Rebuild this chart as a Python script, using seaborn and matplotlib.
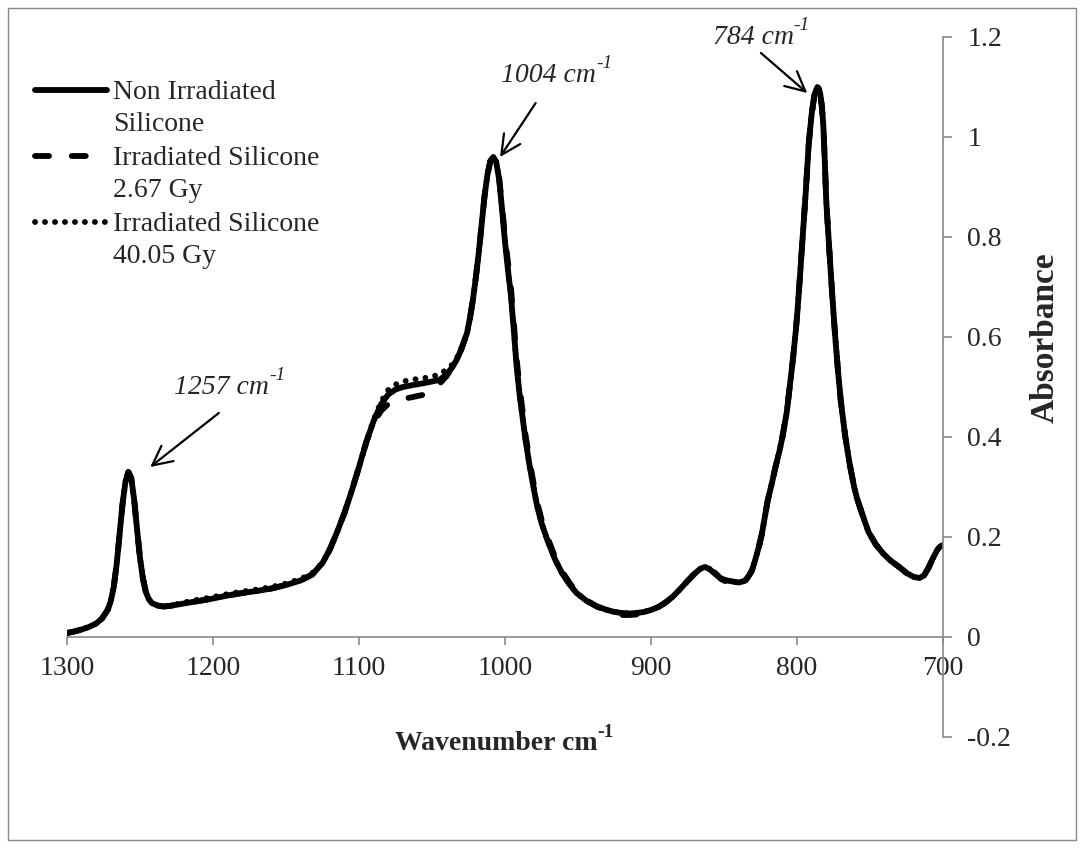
import matplotlib
matplotlib.use("Agg")
import matplotlib.pyplot as plt
import seaborn as sns
import pandas as pd
from matplotlib.lines import Line2D
from matplotlib.patches import Rectangle
from matplotlib.ticker import FixedLocator, FixedFormatter

# ---------------- data ----------------
wavenumber = [1300, 1295, 1290, 1285, 1280, 1276, 1272, 1270, 1268, 1266, 1264, 1262, 1260, 1258, 1256,
              1254, 1252, 1250, 1248, 1246, 1244, 1242, 1238, 1234, 1230, 1220, 1210, 1200, 1190, 1180,
              1170, 1160, 1150, 1140, 1132, 1125, 1120, 1115, 1110, 1105, 1100, 1095, 1090, 1085, 1080,
              1075, 1070, 1063, 1055, 1050, 1045, 1040, 1036, 1033, 1030, 1026, 1024, 1022, 1020, 1018,
              1016, 1014, 1012, 1010, 1008, 1006, 1004, 1002, 1000, 998, 996, 994, 992, 990, 988,
              986, 983, 980, 978, 975, 971, 966, 961, 956, 951, 944, 937, 930, 925, 920,
              915, 910, 905, 900, 895, 890, 885, 880, 875, 870, 866, 863, 860, 856, 852,
              848, 844, 840, 836, 834, 831, 829, 826, 824, 822, 820, 817, 815, 812, 810,
              807, 805, 803, 801, 800, 798, 796, 794, 792, 790, 788, 786, 785, 784, 783,
              782, 781, 780, 778, 776, 774, 772, 770, 767, 764, 761, 759, 755, 751, 746,
              741, 736, 730, 725, 720, 716, 713, 710, 707, 704, 702, 700]

abs_non_irradiated = [0.008, 0.011, 0.015, 0.020, 0.027, 0.037, 0.055, 0.072, 0.100, 0.145, 0.205, 0.265, 0.310, 0.330, 0.318,
                      0.275, 0.215, 0.158, 0.117, 0.090, 0.076, 0.068, 0.063, 0.061, 0.062, 0.067, 0.072, 0.077, 0.083, 0.088,
                      0.092, 0.097, 0.104, 0.113, 0.125, 0.148, 0.175, 0.210, 0.248, 0.292, 0.340, 0.390, 0.432, 0.465, 0.485,
                      0.495, 0.500, 0.504, 0.508, 0.511, 0.514, 0.525, 0.540, 0.555, 0.575, 0.608, 0.638, 0.674, 0.718, 0.768,
                      0.825, 0.882, 0.925, 0.952, 0.960, 0.950, 0.915, 0.855, 0.790, 0.735, 0.685, 0.615, 0.540, 0.485, 0.440,
                      0.395, 0.340, 0.292, 0.262, 0.228, 0.194, 0.157, 0.128, 0.106, 0.088, 0.072, 0.061, 0.054, 0.050, 0.048,
                      0.047, 0.048, 0.050, 0.054, 0.060, 0.069, 0.081, 0.096, 0.112, 0.127, 0.137, 0.140, 0.136, 0.126, 0.117,
                      0.113, 0.111, 0.109, 0.112, 0.118, 0.132, 0.150, 0.182, 0.207, 0.240, 0.274, 0.310, 0.337, 0.372, 0.400,
                      0.450, 0.500, 0.550, 0.607, 0.640, 0.720, 0.805, 0.890, 0.985, 1.045, 1.085, 1.100, 1.097, 1.085, 1.062,
                      1.025, 0.955, 0.874, 0.780, 0.690, 0.607, 0.535, 0.472, 0.402, 0.347, 0.302, 0.278, 0.243, 0.210, 0.185,
                      0.167, 0.153, 0.140, 0.128, 0.120, 0.118, 0.123, 0.138, 0.157, 0.174, 0.181, 0.184]

abs_irradiated_267 = [0.008, 0.011, 0.015, 0.020, 0.027, 0.037, 0.055, 0.072, 0.100, 0.145, 0.205, 0.265, 0.310, 0.330, 0.318,
                      0.275, 0.215, 0.158, 0.117, 0.090, 0.076, 0.068, 0.063, 0.061, 0.062, 0.067, 0.072, 0.077, 0.083, 0.088,
                      0.092, 0.097, 0.104, 0.113, 0.125, 0.148, 0.175, 0.210, 0.248, 0.292, 0.340, 0.390, 0.428, 0.452, 0.466,
                      0.472, 0.476, 0.480, 0.485, 0.493, 0.506, 0.522, 0.540, 0.555, 0.575, 0.608, 0.638, 0.674, 0.718, 0.768,
                      0.825, 0.882, 0.925, 0.952, 0.960, 0.950, 0.918, 0.862, 0.800, 0.750, 0.700, 0.630, 0.555, 0.500, 0.452,
                      0.405, 0.350, 0.300, 0.270, 0.235, 0.200, 0.162, 0.132, 0.109, 0.090, 0.073, 0.061, 0.053, 0.047, 0.044,
                      0.044, 0.045, 0.049, 0.054, 0.060, 0.069, 0.081, 0.096, 0.112, 0.127, 0.137, 0.140, 0.138, 0.128, 0.116,
                      0.110, 0.106, 0.104, 0.110, 0.118, 0.132, 0.150, 0.182, 0.207, 0.240, 0.274, 0.310, 0.337, 0.372, 0.400,
                      0.450, 0.500, 0.550, 0.607, 0.640, 0.720, 0.805, 0.890, 0.985, 1.045, 1.085, 1.100, 1.097, 1.085, 1.062,
                      1.025, 0.955, 0.874, 0.780, 0.690, 0.607, 0.535, 0.472, 0.402, 0.347, 0.302, 0.278, 0.243, 0.210, 0.185,
                      0.167, 0.153, 0.140, 0.128, 0.120, 0.118, 0.123, 0.138, 0.157, 0.174, 0.181, 0.184]

abs_irradiated_4005 = [0.008, 0.011, 0.015, 0.020, 0.027, 0.037, 0.055, 0.072, 0.100, 0.145, 0.205, 0.265, 0.310, 0.330, 0.318,
                       0.275, 0.215, 0.158, 0.117, 0.090, 0.076, 0.068, 0.063, 0.061, 0.062, 0.069, 0.075, 0.080, 0.086, 0.091,
                       0.095, 0.100, 0.107, 0.116, 0.128, 0.148, 0.175, 0.210, 0.248, 0.292, 0.340, 0.390, 0.434, 0.470, 0.494,
                       0.505, 0.511, 0.515, 0.518, 0.521, 0.525, 0.535, 0.545, 0.558, 0.577, 0.608, 0.638, 0.674, 0.718, 0.768,
                       0.825, 0.882, 0.925, 0.952, 0.960, 0.950, 0.915, 0.855, 0.790, 0.735, 0.685, 0.615, 0.540, 0.485, 0.440,
                       0.395, 0.340, 0.292, 0.262, 0.228, 0.194, 0.157, 0.128, 0.106, 0.088, 0.072, 0.061, 0.054, 0.050, 0.048,
                       0.047, 0.048, 0.050, 0.054, 0.060, 0.069, 0.081, 0.096, 0.112, 0.127, 0.137, 0.140, 0.136, 0.126, 0.117,
                       0.113, 0.111, 0.109, 0.112, 0.118, 0.132, 0.150, 0.182, 0.207, 0.240, 0.274, 0.310, 0.337, 0.372, 0.400,
                       0.450, 0.500, 0.550, 0.607, 0.640, 0.720, 0.805, 0.890, 0.985, 1.045, 1.085, 1.100, 1.097, 1.085, 1.062,
                       1.025, 0.955, 0.874, 0.780, 0.690, 0.607, 0.535, 0.472, 0.402, 0.347, 0.302, 0.278, 0.243, 0.210, 0.185,
                       0.167, 0.153, 0.140, 0.128, 0.120, 0.118, 0.123, 0.138, 0.157, 0.174, 0.181, 0.184]

series_labels = ["Non Irradiated\nSilicone", "Irradiated Silicone\n2.67 Gy", "Irradiated Silicone\n40.05 Gy"]

x_ticks = [1300, 1200, 1100, 1000, 900, 800, 700]
x_tick_labels = ["1300", "1200", "1100", "1000", "900", "800", "700"]
y_ticks = [-0.2, 0.0, 0.2, 0.4, 0.6, 0.8, 1.0, 1.2]
y_tick_labels = ["-0.2", "0", "0.2", "0.4", "0.6", "0.8", "1", "1.2"]

x_title = "Wavenumber cm"
x_title_sup = "-1"
y_title = "Absorbance"

peak_texts = ["1257 cm", "1004 cm", "784 cm"]
peak_sup = "-1"

# ---------------- style ----------------
sns.set_style("white")
plt.rcParams["font.family"] = ["Liberation Serif", "DejaVu Serif"]

W, H = 1084, 848
GRAY = "#898989"
FS = 20

fig = plt.figure(figsize=(W / 100, H / 100), dpi=100)
fig.patch.set_facecolor("white")
ax = fig.add_axes([67 / W, (H - 737) / H, (943 - 67) / W, 700 / H])
ax.set_facecolor("none")

df = pd.DataFrame({"wn": wavenumber, "non": abs_non_irradiated,
                   "g267": abs_irradiated_267, "g4005": abs_irradiated_4005})

LW = 4.2
styles = [
    dict(linestyle="-", solid_capstyle="round", solid_joinstyle="round"),
    dict(linestyle=(0, (2.4, 3.9)), dash_capstyle="round", dash_joinstyle="round"),
    dict(linestyle=(0, (0.01, 1.7)), dash_capstyle="round", dash_joinstyle="round"),
]
for col, st in zip(["non", "g267", "g4005"], styles):
    sns.lineplot(data=df, x="wn", y=col, ax=ax, color="black", linewidth=LW,
                 sort=False, estimator=None, legend=False, **st)

ax.set_xlim(1300, 700)
ax.set_ylim(-0.2, 1.2)

# spines
for s in ["top", "left"]:
    ax.spines[s].set_visible(False)
ax.spines["bottom"].set_position(("data", 0))
for s in ["bottom", "right"]:
    ax.spines[s].set_color(GRAY)
    ax.spines[s].set_linewidth(1.2)

ax.xaxis.set_major_locator(FixedLocator(x_ticks))
ax.xaxis.set_major_formatter(FixedFormatter(x_tick_labels))
ax.yaxis.set_major_locator(FixedLocator(y_ticks))
ax.yaxis.set_major_formatter(FixedFormatter(y_tick_labels))
ax.yaxis.tick_right()
ax.tick_params(axis="x", direction="out", length=6, width=1.2, color=GRAY,
               labelsize=FS, pad=8, bottom=True, top=False)
ax.tick_params(axis="y", direction="out", length=6.5, width=1.2, color=GRAY,
               labelsize=FS, pad=11, right=True, left=False)

# axis titles
ax.set_xlabel(x_title, fontsize=FS, fontweight="bold")
ax.xaxis.set_label_coords(0.49, (737 - 744) / 700)
ax.xaxis.label.set_va("center")
ax.annotate(x_title_sup, xy=(1.0, 0.62), xycoords=ax.xaxis.label, fontsize=14,
            fontweight="bold", ha="left", va="bottom")
ax.yaxis.set_label_position("right")
ax.set_ylabel(y_title, fontsize=24, fontweight="bold", rotation=90)
ax.yaxis.set_label_coords((1045 - 67) / 876, (737 - 338) / 700)
ax.yaxis.label.set_va("center")
ax.yaxis.label.set_ha("center")

# peak annotations (arrow tip, arrow tail, text centre in data coords)
arrow_tips = [(1243, 0.34), (1003.4, 0.96), (793, 1.088)]
arrow_tails = [(1196, 0.448), (979, 1.068), (824.7, 1.168)]
text_centres = [(1194, 0.50), (970, 1.124), (830, 1.20)]
for txt, tip, tail, tc in zip(peak_texts, arrow_tips, arrow_tails, text_centres):
    ax.annotate("", xy=tip, xytext=tail,
                arrowprops=dict(arrowstyle="->,head_length=0.7,head_width=0.35",
                                lw=1.6, color="black", mutation_scale=20,
                                shrinkA=0, shrinkB=0))
    t = ax.text(tc[0], tc[1], txt, fontsize=FS, fontstyle="italic",
                ha="center", va="center", clip_on=False)
    ax.annotate(peak_sup, xy=(1.0, 0.62), xycoords=t, fontsize=14,
                fontstyle="italic", ha="left", va="bottom")

# legend (drawn by hand to align the handle with the first text line)
legend_rows = [90, 156, 222]
for lab, st, yrow in zip(series_labels, styles, legend_rows):
    fig.add_artist(Line2D([35 / W, 107 / W], [1 - yrow / H] * 2, color="black",
                          linewidth=LW, transform=fig.transFigure, **st))
    fig.text(113 / W, 1 - (yrow - 10) / H, lab, fontsize=FS, ha="left", va="top",
             linespacing=1.35)

# chart-area border
fig.add_artist(Rectangle((8 / W, 8 / H), (W - 16) / W, (H - 16) / H, transform=fig.transFigure,
                         fill=False, edgecolor=GRAY, linewidth=1.0))

fig.savefig("out.png", dpi=100)
